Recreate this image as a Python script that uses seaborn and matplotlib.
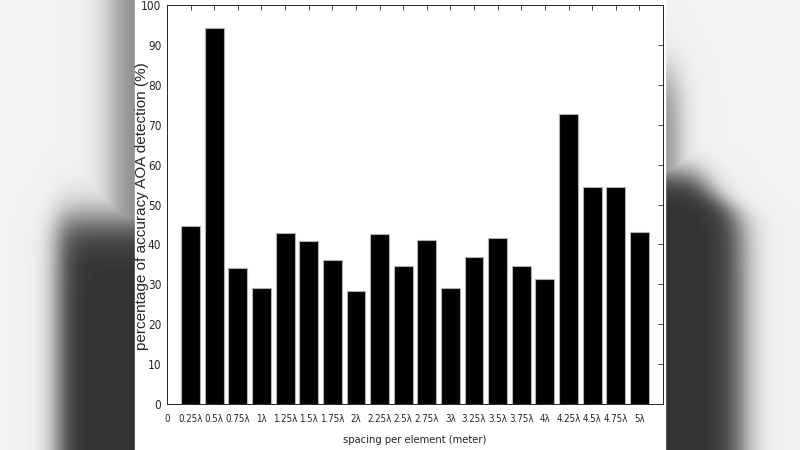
import numpy as np
import matplotlib
matplotlib.use("Agg")
import matplotlib.pyplot as plt
from matplotlib import font_manager as fm
import seaborn as sns

# spacing between antenna elements (tick labels) and detection accuracy (%)
spacing_labels = ["0.25λ", "0.5λ", "0.75λ", "1λ", "1.25λ", "1.5λ", "1.75λ", "2λ",
                  "2.25λ", "2.5λ", "2.75λ", "3λ", "3.25λ", "3.5λ", "3.75λ", "4λ",
                  "4.25λ", "4.5λ", "4.75λ", "5λ"]
accuracy = [44.5, 94.2, 34.0, 29.0, 42.8, 40.8, 36.0, 28.4,
            42.6, 34.7, 41.2, 29.0, 36.9, 41.6, 34.6, 31.3,
            72.8, 54.4, 54.4, 43.1]
y_ticks = list(range(0, 101, 10))

sns.set_style("white")
plt.rcParams["font.family"] = ["Liberation Sans", "DejaVu Sans"]
TXT = "#262626"

# look for a condensed face for the squeezed tick text
narrow_file = None
for f in fm.fontManager.ttflist:
    low = f.fname.lower()
    if ("narrow" in low or "condensed" in low) and "bold" not in low \
            and "italic" not in low and "oblique" not in low:
        if "liberation" in low or narrow_file is None:
            narrow_file = f.fname
if narrow_file:
    base_fp = fm.FontProperties(fname=narrow_file)
else:
    base_fp = fm.FontProperties(family=["Liberation Sans", "DejaVu Sans"])

xt_fp = base_fp.copy()
xt_fp.set_size(7 if narrow_file else 6.5)
yt_fp = base_fp.copy()
yt_fp.set_size(8.5 if narrow_file else 8)
xl_fp = base_fp.copy()
xl_fp.set_size(8 if narrow_file else 7.5)

fig = plt.figure(figsize=(8, 4.5), dpi=100)


def sig(v):
    return 1.0 / (1.0 + np.exp(-v))


# blurred video-frame background on both sides
W, H = 800, 450
xx, yy = np.meshgrid(np.arange(W) + 0.5, np.arange(H) + 0.5)
left_top = 0.55 * sig((xx - 112) / 9)
left_low = sig((yy - 218) / 12) * sig((xx - 58) / 7)
right_top = 0.55 * sig((yy - 75) / 14) * (1 - sig((xx - 678) / 7))
edge = 700 + 42 * sig((yy - 200) / 10)
right_low = sig((yy - 172) / 8) * (1 - sig((xx - edge) / 9))
mask = np.where(xx < 400, np.maximum(left_top, left_low), np.maximum(right_top, right_low))
bg = 0.95 - 0.75 * mask
bg_ax = fig.add_axes([0, 0, 1, 1])
bg_ax.imshow(bg, cmap="gray", vmin=0, vmax=1, extent=[0, W, H, 0], aspect="auto")
bg_ax.add_patch(plt.Rectangle((135, 0), 530, H, color="white", zorder=3))
bg_ax.set_xlim(0, W)
bg_ax.set_ylim(H, 0)
bg_ax.axis("off")

ax = fig.add_axes([167 / 800, 46 / 450, 496 / 800, 399 / 450])
sns.barplot(x=spacing_labels, y=accuracy, order=spacing_labels, color="black",
            saturation=1, width=0.8, edgecolor="#b0b0b0", linewidth=0.8, ax=ax)

ax.set_xlim(-1, 20)
ax.set_ylim(0, 100)
ax.set_xticks(range(-1, 20))
ax.set_xticklabels(["0"] + spacing_labels, fontproperties=xt_fp)
ax.set_yticks(y_ticks)
ax.set_yticklabels([str(v) for v in y_ticks], fontproperties=yt_fp)
ax.tick_params(axis="both", direction="in", length=3.5, width=0.6, color=TXT,
               labelcolor=TXT, top=True, right=True)
ax.tick_params(axis="x", pad=7)
ax.tick_params(axis="y", pad=4)
for s in ax.spines.values():
    s.set_visible(True)
    s.set_color(TXT)
    s.set_linewidth(0.7)

ax.set_xlabel("spacing per element (meter)", fontproperties=xl_fp, color=TXT)
ax.xaxis.set_label_coords(0.5, -0.077)
ax.set_ylabel("percentage of accuracy AOA detection (%)", fontsize=11, color=TXT)
ax.yaxis.set_label_coords(-0.036, 0.495)

fig.savefig("out.png", dpi=100)
